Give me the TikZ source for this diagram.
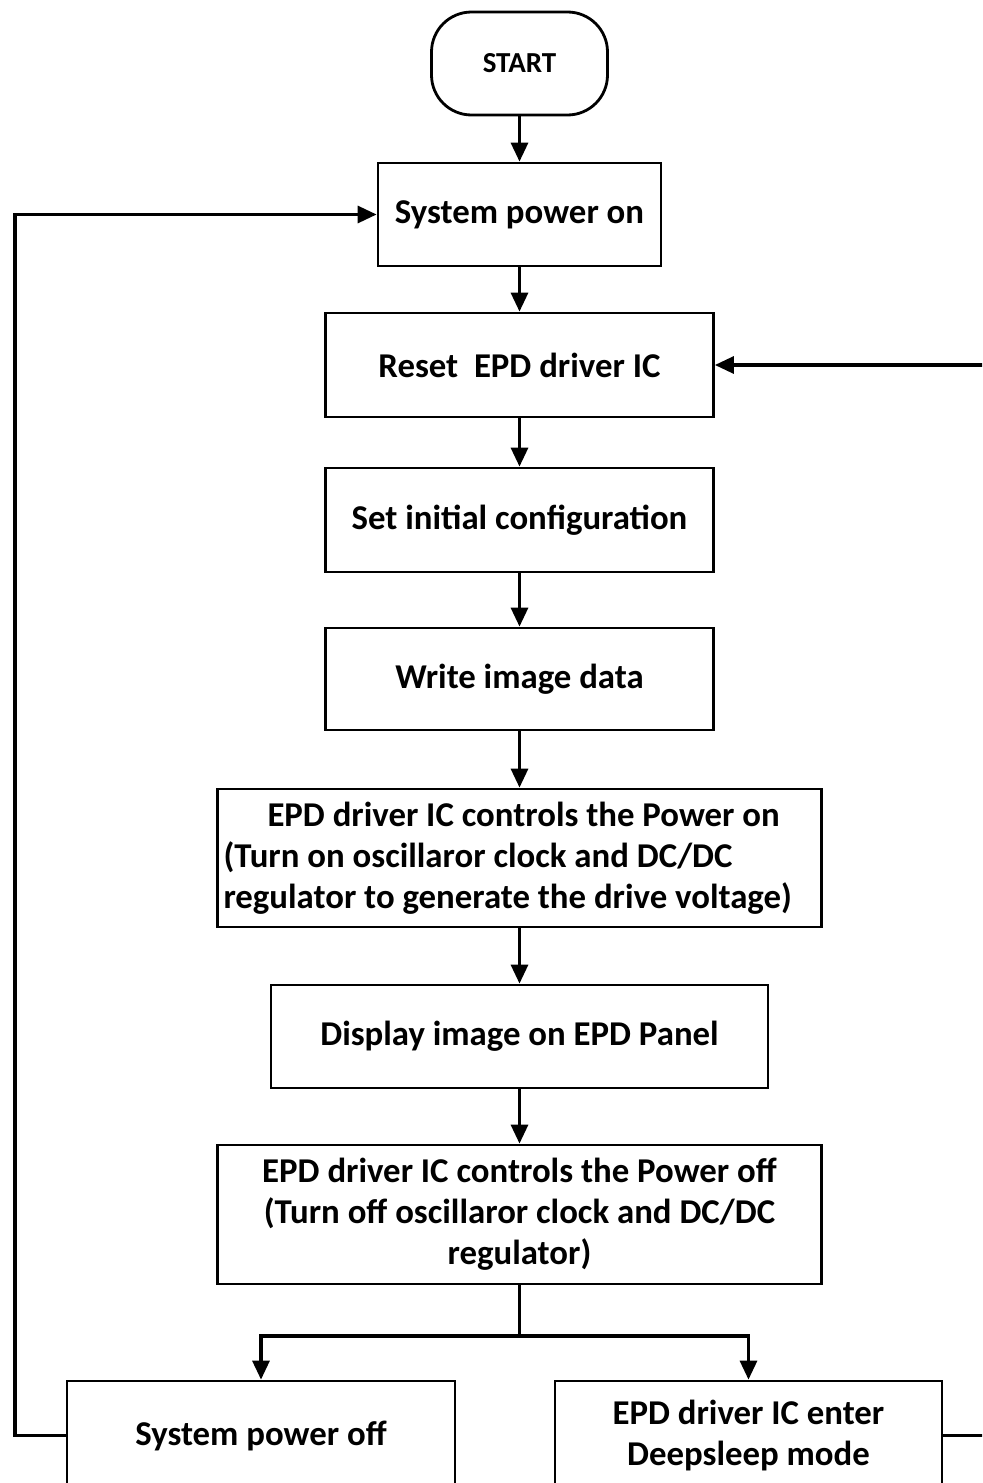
\documentclass[tikz,border=0pt]{standalone}
\usepackage{fontspec}
\setmainfont{Carlito}
\usetikzlibrary{arrows.meta}
\begin{document}
\begin{tikzpicture}[x=0.5pt,y=-0.5pt,
  box/.style={draw,line width=1.4pt,rectangle,inner sep=0pt,font=\fontsize{17.4}{20.5}\selectfont\bfseries,fill=white},
  conn/.style={line width=1.6pt},
  arr/.style={conn,-{Triangle[width=8.5pt,length=9.5pt]}}]
\clip (0,0) rectangle (982,1483);
\fill[white] (0,0) rectangle (982,1483);
\node[box,rounded corners=20pt,minimum width=88pt,minimum height=51.5pt,font=\fontsize{14.5}{17}\selectfont\bfseries] (start) at (519.5,63.5) {START};
\node[box,minimum width=141.5pt,minimum height=51.5pt] (pon) at (519.5,214.5) {System power on};
\node[box,minimum width=194pt,minimum height=52pt] (reset) at (519.5,365) {Reset\ \ EPD driver IC};
\node[box,minimum width=194pt,minimum height=52pt] (init) at (519.5,520) {Set initial configuration};
\node[box,minimum width=194pt,minimum height=51pt] (write) at (519.5,679) {Write image data};
\node[box,minimum width=302pt,minimum height=69pt,align=left] (pwon) at (519.5,858) {\hspace*{22pt}EPD driver IC controls the Power on\\(Turn on oscillaror clock and DC/DC\\\makebox[296pt][l]{regulator to generate the drive voltage)}};
\node[box,minimum width=248.5pt,minimum height=51.5pt] (disp) at (519.5,1036.5) {Display image on EPD Panel};
\node[box,minimum width=302pt,minimum height=69.5pt,align=center] (pwoff) at (519.5,1214.5) {EPD driver IC controls the Power off\\(Turn off oscillaror clock and DC/DC\\regulator)};
\node[box,minimum width=194pt,minimum height=54.5pt] (sysoff) at (261,1435.5) {System power off};
\node[box,minimum width=193.5pt,minimum height=54.5pt,align=center] (sleep) at (748.5,1435.5) {EPD driver IC enter\\Deepsleep mode};
\draw[arr] (start) -- (pon);
\draw[arr] (pon) -- (reset);
\draw[arr] (reset) -- (init);
\draw[arr] (init) -- (write);
\draw[arr] (write) -- (pwon);
\draw[arr] (pwon) -- (disp);
\draw[arr] (disp) -- (pwoff);
\coordinate (br) at (519.5,1336);
\draw[conn] (pwoff.south) -- (br);
\draw[arr] (br) -| (sysoff.north);
\draw[arr] (br) -| (sleep.north);
\coordinate (lc) at (15,1435.5);
\draw[arr] (sysoff.west) -- (lc) |- (pon.west);
\coordinate (rc) at (995,1435.5);
\draw[arr] (sleep.east) -- (rc) |- (reset.east);
\end{tikzpicture}
\end{document}
